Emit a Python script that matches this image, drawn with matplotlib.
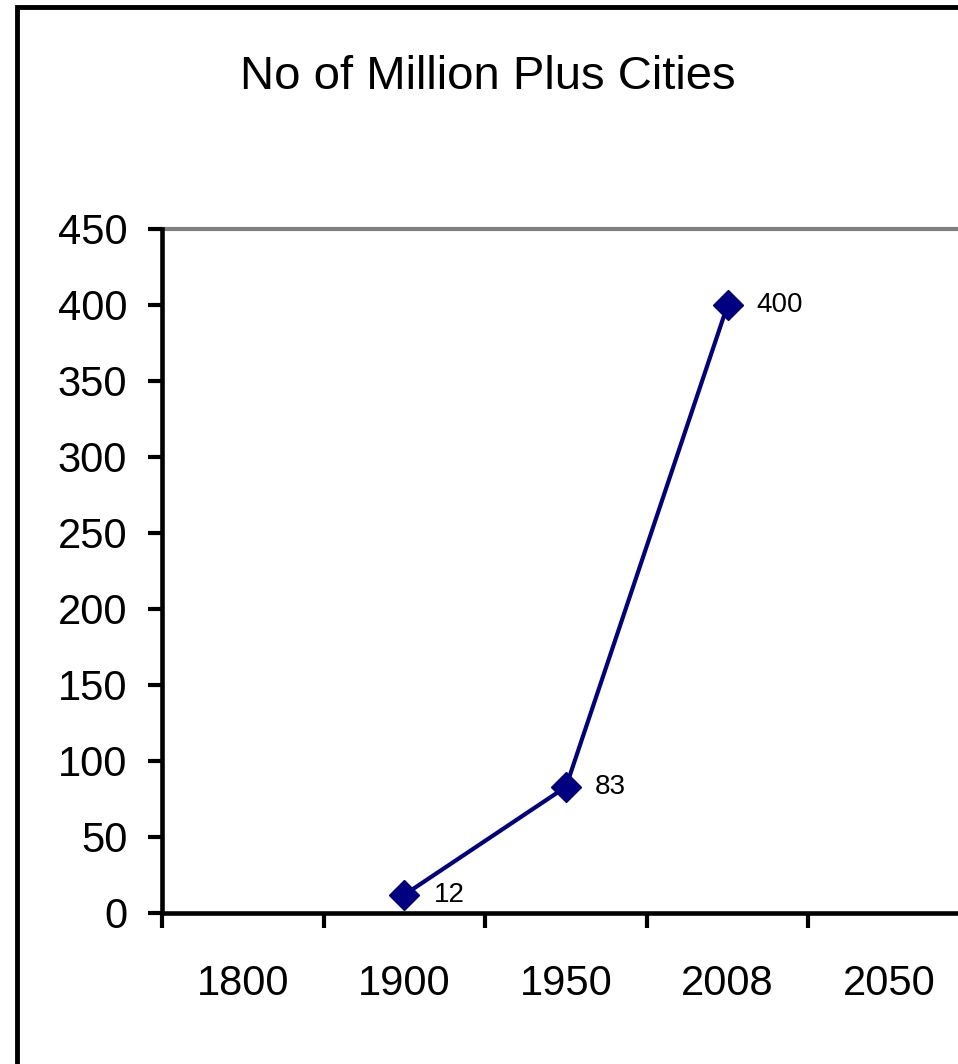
import matplotlib
matplotlib.use("Agg")
import matplotlib.pyplot as plt
import numpy as np
from matplotlib import font_manager
from matplotlib.patches import Rectangle

plt.rcParams["font.family"] = ["Liberation Sans", "DejaVu Sans"]

years = ["1800", "1900", "1950", "2008", "2050"]
cities = [np.nan, 12, 83, 400, np.nan]
y_ticks = [0, 50, 100, 150, 200, 250, 300, 350, 400, 450]

NAVY = "#000080"


def tick_font() -> tuple[str, float]:
    names = {f.name for f in font_manager.fontManager.ttflist}
    if "Liberation Sans Narrow" in names:
        return "Liberation Sans Narrow", 33
    return "Liberation Sans", 30


def main() -> None:
    fig = plt.figure(figsize=(9.58, 10.64), dpi=100)
    ax = fig.add_axes([162 / 958, 151 / 1064, 808 / 958, 684 / 1064])

    pos = np.arange(1, len(years) + 1)
    vals = np.array(cities, dtype=float)
    ax.plot(pos, vals, color=NAVY, linewidth=3, marker="D", markersize=15,
            markerfacecolor=NAVY, markeredgecolor=NAVY, markeredgewidth=1,
            zorder=3, clip_on=False)
    for x, v in zip(pos, vals):
        if np.isnan(v):
            continue
        ax.annotate(f"{int(v)}", (x, v), xytext=(21, 0), textcoords="offset points",
                    va="center", ha="left", fontsize=20, color="black")

    ax.set_xlim(0.5, len(years) + 0.5)
    ax.set_ylim(0, 450)

    fam, size = tick_font()

    # category boundaries carry the tick marks, centres carry the labels
    ax.set_xticks(np.arange(0.5, len(years) + 1, 1.0), [""] * (len(years) + 1))
    ax.set_xticks(pos, years, minor=True)
    ax.tick_params(axis="x", which="major", length=11, width=3, direction="out", color="black")
    ax.tick_params(axis="x", which="minor", length=0, pad=37)

    ax.set_yticks(y_ticks)
    ax.tick_params(axis="y", length=10, width=3, direction="out", pad=15)

    for lbl in ax.get_xticklabels(minor=True) + ax.get_yticklabels():
        lbl.set_family(fam)
        lbl.set_fontsize(size)

    ax.axhline(450, color="#808080", linewidth=3, zorder=1, clip_on=False)
    for side in ["top", "right"]:
        ax.spines[side].set_visible(False)
    for side in ["left", "bottom"]:
        ax.spines[side].set_linewidth(3.3)
        ax.spines[side].set_color("black")

    fig.text(488 / 958, 1 - 77 / 1064, "No of Million Plus Cities",
             ha="center", va="center", fontsize=34)

    # outer chart frame (right and bottom edges fall outside the image)
    fig.patches.append(Rectangle((17 / 958, -0.1), 1.2, 1.1 - 7 / 1064,
                                 transform=fig.transFigure, fill=False,
                                 edgecolor="black", linewidth=3.5))

    fig.savefig("out.png", dpi=100)
    plt.close(fig)


if __name__ == "__main__":
    main()
